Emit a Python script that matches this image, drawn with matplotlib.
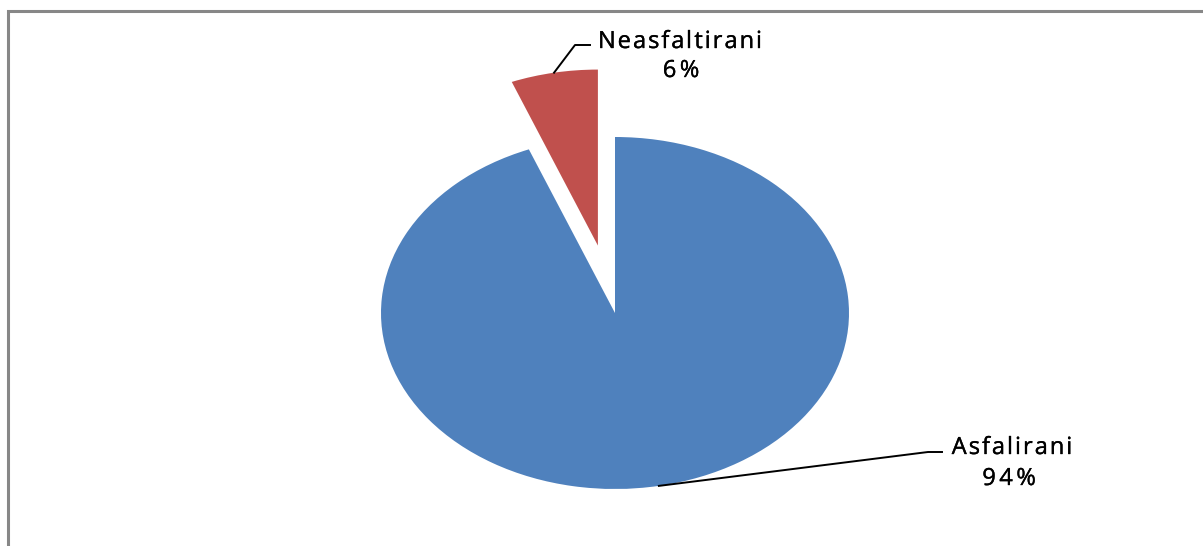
import numpy as np
import matplotlib
matplotlib.use("Agg")
import matplotlib.pyplot as plt
import matplotlib.patches as patches
import matplotlib.patheffects as pe
from matplotlib.font_manager import FontProperties

# data
labels = ["Asfalirani", "Neasfaltirani"]
shares = [94, 6]
colors = ["#4F81BD", "#C0504D"]
explode = [0, 0.39]

W, H = 1203, 546
cx, cy = 615, 313      # pie centre in pixels
rx, ry = 234, 176      # ellipse radii in pixels

fig = plt.figure(figsize=(W / 100, H / 100), dpi=100)
ax = fig.add_axes([0, 0, 1, 1])


def px(x, y):
    # pixel position -> data coords
    return (x - cx) / rx, (cy - y) / ry


wedges, _ = ax.pie(shares, colors=colors, explode=explode, startangle=90,
                   counterclock=False, radius=1, center=(0, 0),
                   wedgeprops=dict(linewidth=0))
ax.set_aspect("auto")
ax.set_xlim(-cx / rx, (W - cx) / rx)
ax.set_ylim(-(H - cy) / ry, cy / ry)
ax.axis("off")

# frame around chart area (cut by the image at right/bottom)
fig.patches.append(patches.Rectangle((7.5 / W, -0.05), 1.05, 1 - 11 / H + 0.05,
                                     transform=fig.transFigure, fill=False,
                                     edgecolor="#878787", linewidth=2.2))

font = FontProperties(family="Open Sans", size=17)
renderer = fig.canvas.get_renderer()
thick = [pe.withStroke(linewidth=0.25, foreground="black")]


def spaced_text(s, xc, yb, track):
    # centred text with extra letter spacing, baseline at pixel row yb
    total = renderer.get_text_width_height_descent(s, font, ismath=False)[0]
    total += track * (len(s) - 1)
    x0 = xc - total / 2
    for i, ch in enumerate(s):
        off = renderer.get_text_width_height_descent(s[:i], font, ismath=False)[0] if i else 0
        tx, ty = px(x0 + off + i * track, yb)
        ax.text(tx, ty, ch, ha="left", va="baseline", fontproperties=font,
                color="black", path_effects=thick)


# labels with leader lines
label_pos = [((1012, 454), (1009, 485)), ((680, 48), (681, 77))]
elbow = [((942, 452), (928, 452)), ((590, 45), (575, 45))]
for w, lab, s, (p1, p2), (p_end, p_knee) in zip(wedges, labels, shares, label_pos, elbow):
    ang = np.deg2rad((w.theta1 + w.theta2) / 2)
    ox, oy = w.center
    ax_ = ox + w.r * np.cos(ang)
    ay_ = oy + w.r * np.sin(ang)
    kx, ky = px(*p_knee)
    ex, ey = px(*p_end)
    ax.plot([ax_, kx, ex], [ay_, ky, ey], color="black", lw=1.4, clip_on=False)
    spaced_text(lab, p1[0], p1[1], 2.0)
    spaced_text(f"{s}%", p2[0], p2[1], 3.5)

fig.savefig("out.png", dpi=100)
